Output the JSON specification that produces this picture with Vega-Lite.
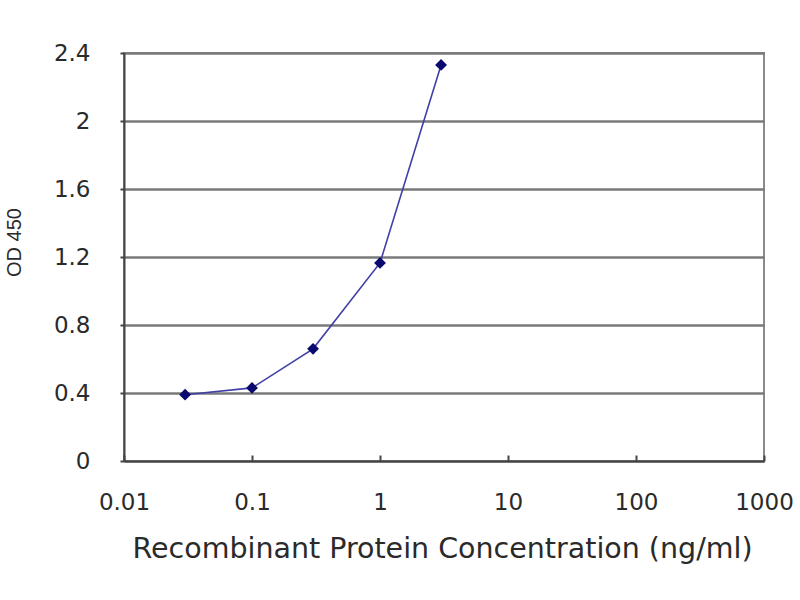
{
  "$schema": "https://vega.github.io/schema/vega-lite/v6.json",
  "autosize": "none",
  "width": 640,
  "height": 408,
  "padding": {"left": 124, "top": 53, "right": 36, "bottom": 139},
  "background": "white",
  "config": {
    "view": {"stroke": "#8a8a8a", "strokeWidth": 2},
    "axis": {
      "labelFont": "DejaVu Sans",
      "titleFont": "DejaVu Sans",
      "labelColor": "#2a2a2a",
      "titleColor": "#2a2a2a",
      "titleFontWeight": "normal",
      "domainColor": "#444444",
      "domainWidth": 2,
      "tickColor": "#444444",
      "tickWidth": 2,
      "gridColor": "#7a7a7a",
      "gridWidth": 2.5,
      "gridOpacity": 1
    }
  },
  "data": {
    "values": [
      {"conc": 0.03, "od": 0.39},
      {"conc": 0.1, "od": 0.43},
      {"conc": 0.3, "od": 0.66},
      {"conc": 1, "od": 1.165},
      {"conc": 3, "od": 2.33}
    ]
  },
  "encoding": {
    "x": {
      "field": "conc",
      "type": "quantitative",
      "scale": {"type": "log", "domain": [0.01, 1000], "nice": false},
      "axis": {
        "title": "Recombinant Protein Concentration (ng/ml)",
        "values": [0.01, 0.1, 1, 10, 100, 1000],
        "format": "~g",
        "grid": false,
        "labelFontSize": 23,
        "labelPadding": 36,
        "tickSize": -6,
        "labelFlush": false,
        "labelOverlap": false,
        "titleFontSize": 28.5,
        "titleX": 318,
        "titleY": 87,
        "titleBaseline": "middle",
        "titleAnchor": "middle",
        "titleAlign": "center"
      }
    },
    "y": {
      "field": "od",
      "type": "quantitative",
      "scale": {"domain": [0, 2.4], "nice": false},
      "axis": {
        "title": "OD 450",
        "values": [0, 0.4, 0.8, 1.2, 1.6, 2, 2.4],
        "format": "~g",
        "grid": true,
        "labelFontSize": 23,
        "labelPadding": 30,
        "tickSize": 4,
        "labelOverlap": false,
        "titleFont": "Liberation Sans",
        "titleFontSize": 20,
        "titleX": -110,
        "titleY": 189,
        "titleBaseline": "middle",
        "titleAlign": "center",
        "titleAngle": -90
      }
    }
  },
  "layer": [
    {"mark": {"type": "line", "color": "#4040a8", "strokeWidth": 1.6}},
    {"mark": {"type": "point", "shape": "diamond", "filled": true, "size": 140, "color": "#0a0a6e", "opacity": 1}}
  ]
}
